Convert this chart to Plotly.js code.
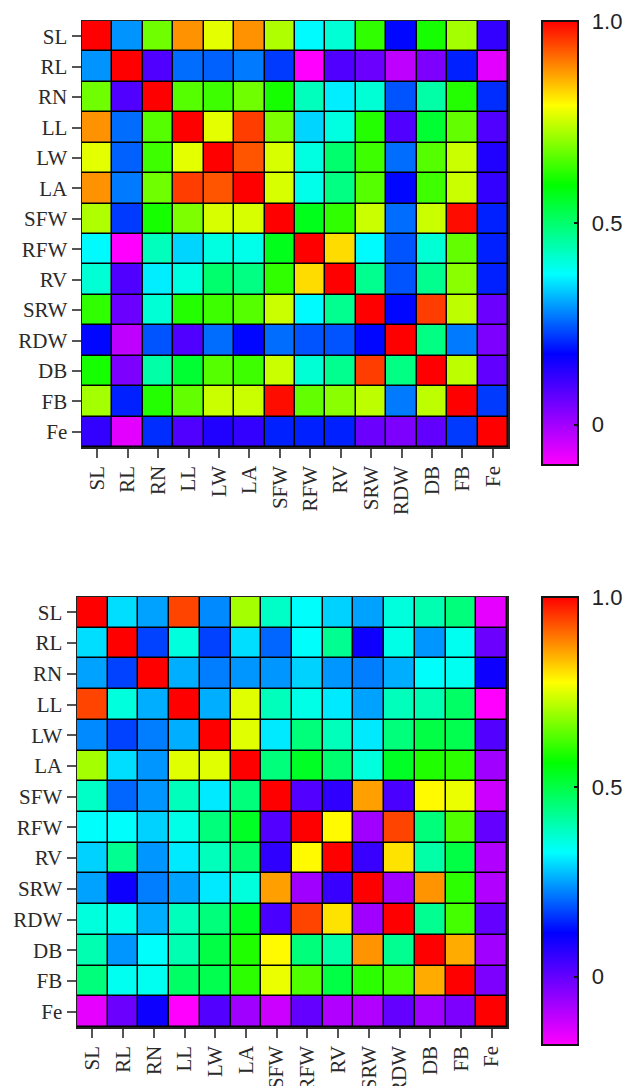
<!DOCTYPE html>
<html><head><meta charset="utf-8">
<script src="https://cdn.plot.ly/plotly-3.0.1.min.js"></script>
<style>html,body{margin:0;padding:0;background:#fff;}</style>
</head><body><div id="chart" style="width:635px;height:1086px;"></div>
<script>
const traits = ["SL","RL","RN","LL","LW","LA","SFW","RFW","RV","SRW","RDW","DB","FB","Fe"];

// Upper heatmap (rows top to bottom, columns left to right)
const corrTop = [
  [1.00, 0.29, 0.68, 0.88, 0.77, 0.88, 0.73, 0.37, 0.41, 0.63, 0.18, 0.61, 0.72, 0.12],
  [0.29, 1.00, 0.09, 0.26, 0.25, 0.27, 0.22,-0.10, 0.09, 0.06,-0.03, 0.04, 0.20,-0.07],
  [0.68, 0.09, 1.00, 0.66, 0.64, 0.68, 0.61, 0.43, 0.36, 0.41, 0.24, 0.45, 0.62, 0.21],
  [0.88, 0.26, 0.66, 1.00, 0.77, 0.95, 0.69, 0.34, 0.40, 0.62, 0.09, 0.55, 0.67, 0.09],
  [0.77, 0.25, 0.64, 0.77, 1.00, 0.93, 0.76, 0.40, 0.50, 0.64, 0.26, 0.66, 0.75, 0.14],
  [0.88, 0.27, 0.68, 0.95, 0.93, 1.00, 0.76, 0.39, 0.48, 0.66, 0.18, 0.64, 0.75, 0.12],
  [0.73, 0.22, 0.61, 0.69, 0.76, 0.76, 1.00, 0.57, 0.63, 0.75, 0.26, 0.75, 0.99, 0.20],
  [0.37,-0.10, 0.43, 0.34, 0.40, 0.39, 0.57, 1.00, 0.82, 0.37, 0.24, 0.41, 0.67, 0.20],
  [0.41, 0.09, 0.36, 0.40, 0.50, 0.48, 0.63, 0.82, 1.00, 0.47, 0.24, 0.47, 0.70, 0.20],
  [0.63, 0.06, 0.41, 0.62, 0.64, 0.66, 0.75, 0.37, 0.47, 1.00, 0.18, 0.95, 0.74, 0.06],
  [0.18,-0.03, 0.24, 0.09, 0.26, 0.18, 0.26, 0.24, 0.24, 0.18, 1.00, 0.48, 0.27, 0.04],
  [0.61, 0.04, 0.45, 0.55, 0.66, 0.64, 0.75, 0.41, 0.47, 0.95, 0.48, 1.00, 0.74, 0.07],
  [0.72, 0.20, 0.62, 0.67, 0.75, 0.75, 0.99, 0.67, 0.70, 0.74, 0.27, 0.74, 1.00, 0.22],
  [0.12,-0.07, 0.21, 0.09, 0.14, 0.12, 0.20, 0.20, 0.20, 0.06, 0.04, 0.07, 0.22, 1.00]
];

// Lower heatmap
const corrBottom = [
  [1.00, 0.30, 0.25, 0.94, 0.23, 0.70, 0.38, 0.33, 0.29, 0.25, 0.36, 0.40, 0.45,-0.15],
  [0.30, 1.00, 0.17, 0.36, 0.17, 0.30, 0.20, 0.33, 0.43, 0.10, 0.35, 0.24, 0.34,-0.01],
  [0.25, 0.17, 1.00, 0.26, 0.22, 0.24, 0.24, 0.29, 0.24, 0.22, 0.26, 0.33, 0.34, 0.10],
  [0.94, 0.36, 0.26, 1.00, 0.26, 0.75, 0.39, 0.35, 0.31, 0.25, 0.39, 0.40, 0.47,-0.18],
  [0.23, 0.17, 0.22, 0.26, 1.00, 0.75, 0.31, 0.45, 0.39, 0.31, 0.45, 0.50, 0.49, 0.02],
  [0.70, 0.30, 0.24, 0.75, 0.75, 1.00, 0.45, 0.53, 0.46, 0.36, 0.53, 0.59, 0.60,-0.07],
  [0.38, 0.20, 0.24, 0.39, 0.31, 0.45, 1.00, 0.02, 0.06, 0.86, 0.03, 0.78, 0.76,-0.12],
  [0.33, 0.33, 0.29, 0.35, 0.45, 0.53, 0.02, 1.00, 0.78,-0.07, 0.94, 0.45, 0.63, 0.00],
  [0.29, 0.43, 0.24, 0.31, 0.39, 0.46, 0.06, 0.78, 1.00, 0.05, 0.80, 0.41, 0.50,-0.09],
  [0.25, 0.10, 0.22, 0.25, 0.31, 0.36, 0.86,-0.07, 0.05, 1.00,-0.07, 0.87, 0.60,-0.09],
  [0.36, 0.35, 0.26, 0.39, 0.45, 0.53, 0.03, 0.94, 0.80,-0.07, 1.00, 0.43, 0.62, 0.00],
  [0.40, 0.24, 0.33, 0.40, 0.50, 0.59, 0.78, 0.45, 0.41, 0.87, 0.43, 1.00, 0.85,-0.07],
  [0.45, 0.34, 0.34, 0.47, 0.49, 0.60, 0.76, 0.63, 0.50, 0.60, 0.62, 0.85, 1.00,-0.03],
  [-0.15,-0.01, 0.10,-0.18, 0.02,-0.07,-0.12, 0.00,-0.09,-0.09, 0.00,-0.07,-0.03, 1.00]
];

const cbTickVals = [0, 0.5, 1];
const cbTickText = ["0", "0.5", "1.0"];

const rainbow = [[0,'#ff00ff'],[0.25,'#0000ff'],[0.43,'#00ffff'],[0.63,'#00ff00'],[0.81,'#ffff00'],[1,'#ff0000']];

const W = 635, H = 1086;
const px = v => v / W;
const py = v => 1 - v / H;

function cbar(yTop, yBot) {
  return {
    x: px(542), xanchor: 'left', xpad: 0, ypad: 0,
    y: py(yTop), yanchor: 'top', len: (yBot - yTop) / H, lenmode: 'fraction',
    thickness: 36, thicknessmode: 'pixels',
    outlinewidth: 2, outlinecolor: '#111',
    tickvals: cbTickVals, ticktext: cbTickText.map(t => '\u00a0\u200a' + t),
    ticks: 'inside', ticklen: 5, tickwidth: 2, tickcolor: '#111',
    tickfont: {family: 'Liberation Sans, Arial, sans-serif', size: 22, color: '#222'}
  };
}

const traces = [
  {type: 'heatmap', x: traits, y: traits, z: corrTop, xaxis: 'x', yaxis: 'y',
   colorscale: rainbow, zmin: -0.1, zmax: 1.0, xgap: 1.5, ygap: 1.5,
   colorbar: cbar(21, 465)},
  {type: 'heatmap', x: traits, y: traits, z: corrBottom, xaxis: 'x2', yaxis: 'y2',
   colorscale: rainbow, zmin: -0.18, zmax: 1.0, xgap: 1.5, ygap: 1.5,
   colorbar: cbar(597, 1045)}
];

const tickFont = {family: 'Liberation Serif, Times New Roman, serif', size: 21, color: '#2a2a2a'};
function ax(domain, anchor, isY) {
  const a = {
    domain: domain, anchor: anchor, type: 'category',
    showline: true, mirror: true, linecolor: '#222', linewidth: 1.5,
    ticks: 'outside', ticklen: 9, tickwidth: 2, tickcolor: '#555',
    tickfont: tickFont, showgrid: false, zeroline: false, fixedrange: true
  };
  if (isY) { a.autorange = 'reversed'; } else { a.tickangle = -90; }
  return a;
}

const layout = {
  width: W, height: H,
  margin: {l: 0, r: 0, t: 0, b: 0, pad: 0},
  paper_bgcolor: '#fff', plot_bgcolor: '#000',
  showlegend: false,
  xaxis: ax([px(82), px(508)], 'y', false),
  yaxis: ax([py(447), py(21)], 'x', true),
  xaxis2: ax([px(77), px(507)], 'y2', false),
  yaxis2: ax([py(1027), py(597)], 'x2', true)
};

Plotly.newPlot('chart', traces, layout, {displayModeBar: false, staticPlot: true});
</script>
</body></html>
